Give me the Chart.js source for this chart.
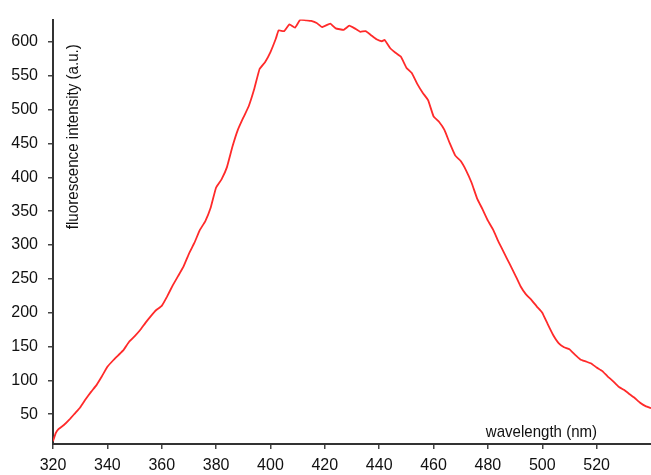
<!DOCTYPE html>
<html>
<head>
<meta charset="utf-8">
<script src="https://cdn.jsdelivr.net/npm/chart.js@4.4.0/dist/chart.umd.min.js"></script>
<style>
  html, body { margin: 0; padding: 0; background: #fff; }
  #wrap { width: 651px; height: 475px; position: relative; }
</style>
</head>
<body>
<div id="wrap"><canvas id="c"></canvas></div>
<script>
const wavelength = [320,321,322,324,326,328,330,332,334,336,338,340,342,344,346,348,350,352,354,356,358,360,362,364,366,368,370,372,374,376,378,380,382,384,386,388,390,392,394,396,398,400,402,403,405,407,409,411,413,415,417,419,422,424,427,429,431,433,435,437,439,441,442,444,446,448,450,452,454,456,458,460,462,464,466,468,470,472,474,476,478,480,482,484,486,488,490,492,494,496,498,500,502,504,506,508,510,512,514,516,518,520,522,524,526,528,530,532,534,536,538,540];
const intensity = [10,22,28,34,42,51,60,72,83,93,106,120,129,137,145,157,165,174,185,195,204,210,224,240,254,268,287,303,322,335,355,385,397,415,445,470,488,505,530,560,570,585,605,617,616,626,621,633,632,631,628,622,627,620,618,624,620,615,616,610,604,601,603,591,584,578,562,554,538,525,514,490,482,470,450,432,424,410,392,369,353,336,322,304,288,272,256,239,227,219,209,200,183,167,155,149,146,138,131,128,125,119,114,106,99,91,86,80,74,67,62,59];
const xTicks = [320,340,360,380,400,420,440,460,480,500,520];
const yTicks = [50,100,150,200,250,300,350,400,450,500,550,600];
const xTitle = 'wavelength (nm)';
const yTitle = 'fluorescence intensity (a.u.)';

const FONT = '"Liberation Sans", Arial, Helvetica, sans-serif';

const points = wavelength.map((w, i) => ({ x: w, y: intensity[i] }));

const innerTitles = {
  id: 'innerTitles',
  afterDraw(chart) {
    const ctx = chart.ctx;
    const xs = chart.scales.x, ys = chart.scales.y;
    ctx.save();
    ctx.fillStyle = '#111';
    ctx.font = '17px ' + FONT;
    ctx.textAlign = 'center';
    ctx.textBaseline = 'middle';
    ctx.save();
    ctx.translate(xs.getPixelForValue(499.7), ys.getPixelForValue(24));
    ctx.scale(0.885, 1);
    ctx.fillText(xTitle, 0, 0);
    ctx.restore();
    ctx.save();
    ctx.translate(xs.getPixelForValue(327.4), ys.getPixelForValue(460));
    ctx.rotate(-Math.PI / 2);
    ctx.scale(0.89, 1);
    ctx.fillText(yTitle, 0, 0);
    ctx.restore();
    ctx.restore();
  }
};

new Chart(document.getElementById('c'), {
  type: 'line',
  data: {
    datasets: [{
      data: points,
      borderColor: '#ff2a2a',
      borderWidth: 1.8,
      pointRadius: 0,
      tension: 0.1,
      fill: false
    }]
  },
  options: {
    responsive: true,
    maintainAspectRatio: false,
    animation: false,
    layout: { padding: { top: 17, right: 0, left: 0, bottom: 0 } },
    plugins: { legend: { display: false }, tooltip: { enabled: false } },
    scales: {
      x: {
        type: 'linear',
        min: 320,
        max: 540,
        afterBuildTicks: (s) => { s.ticks = xTicks.map(v => ({ value: v })); },
        afterFit: (s) => { s.height = 31; },
        border: { display: true, color: '#333', width: 2 },
        grid: { drawOnChartArea: false, drawTicks: true, tickLength: 5, color: '#444', lineWidth: 1.5 },
        ticks: { color: '#111', font: { family: FONT, size: 16 }, padding: 7, maxRotation: 0, autoSkip: false }
      },
      y: {
        type: 'linear',
        min: 6,
        max: 633,
        afterBuildTicks: (s) => { s.ticks = yTicks.map(v => ({ value: v })); },
        afterFit: (s) => { s.width = 53; },
        border: { display: true, color: '#333', width: 2 },
        grid: { drawOnChartArea: false, drawTicks: true, tickLength: 5, color: '#444', lineWidth: 1.5 },
        ticks: { color: '#111', font: { family: FONT, size: 16 }, padding: 10 }
      }
    }
  },
  plugins: [innerTitles]
});
</script>
</body>
</html>
